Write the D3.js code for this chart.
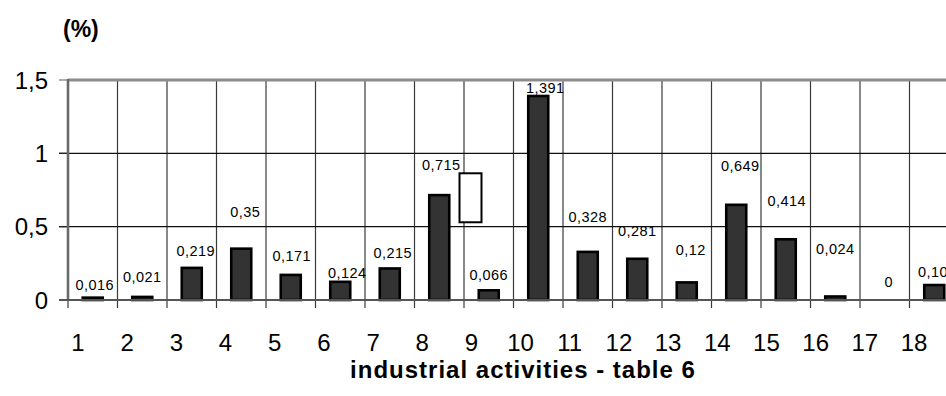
<!DOCTYPE html>
<html>
<head>
<meta charset="utf-8">
<script src="https://cdn.jsdelivr.net/npm/d3@7"></script>
<style>
  html, body { margin: 0; padding: 0; background: #fff; }
  svg { display: block; font-family: "Liberation Sans", Arial, sans-serif; }
</style>
</head>
<body>
<svg id="chart" width="946" height="396"></svg>
<script>
// Industrial activities (table 6), share in %
const categories = ["1","2","3","4","5","6","7","8","9","10","11","12","13","14","15","16","17","18"];
const values = [0.016, 0.021, 0.219, 0.35, 0.171, 0.124, 0.215, 0.715, 0.066, 1.391,
                0.328, 0.281, 0.12, 0.649, 0.414, 0.024, 0, 0.102];
const yTicks = [0, 0.5, 1, 1.5];
const yTickLabels = ["0", "0,5", "1", "1,5"];

// Label placement (pixels above bar top, horizontal nudge) for each value label
const labelLift = [12.7, 20.2, 16.9, 36.7, 18.9, 9.5, 15.8, 30.1, 15.3, 8, 35.2, 27.8, 32.4, 38.8, 38.3, 48.2, 18.3, 13.3];
const labelNudge = [2, 0, 4, 4, 1, 7, 3, 2, 0, 7, 0, 0, 4, 4, 1, 0, 4, 3];

// Empty framed box drawn over category 9
const frameBox = { category: "9", low: 0.53, high: 0.864 };

const svg = d3.select("#chart");
const plotLeft = 68, plotTop = 80, plotBottom = 300;
const band = 49.5;

const x = d3.scaleBand().domain(categories).range([plotLeft, plotLeft + band * categories.length]).padding(0);
const y = d3.scaleLinear().domain([0, 1.5]).range([plotBottom, plotTop]);
// tick labels sit on their own slightly tighter spacing
const xl = d3.scaleLinear().domain([1, 18]).range([78, 914]);

const fmt = v => String(v).replace(".", ",");

// vertical gridlines + ticks below the axis
const gx = svg.append("g");
categories.forEach((c, i) => {
  if (i === 0) return;
  gx.append("line")
    .attr("x1", x(c)).attr("x2", x(c))
    .attr("y1", plotTop).attr("y2", plotBottom + 8)
    .attr("stroke", "#3a3a3a").attr("stroke-width", 1.2);
});
gx.append("line")
  .attr("x1", plotLeft).attr("x2", plotLeft)
  .attr("y1", plotBottom).attr("y2", plotBottom + 8)
  .attr("stroke", "#3a3a3a").attr("stroke-width", 1.2);

// horizontal gridlines
yTicks.forEach(t => {
  if (t === 0 || t === 1.5) return;
  svg.append("line")
    .attr("x1", plotLeft - 9).attr("x2", 946)
    .attr("y1", y(t)).attr("y2", y(t))
    .attr("stroke", "#111").attr("stroke-width", 1.2);
});

// top border at 1.5
svg.append("line")
  .attr("x1", plotLeft).attr("x2", 946)
  .attr("y1", y(1.5)).attr("y2", y(1.5))
  .attr("stroke", "#8c8c8c").attr("stroke-width", 3);

// y tick marks
yTicks.forEach(t => {
  svg.append("line")
    .attr("x1", plotLeft - 9).attr("x2", plotLeft)
    .attr("y1", y(t)).attr("y2", y(t))
    .attr("stroke", t === 1.5 ? "#777" : "#222").attr("stroke-width", 1.2);
});

// left axis line
svg.append("line")
  .attr("x1", plotLeft).attr("x2", plotLeft)
  .attr("y1", y(1.5) - 1).attr("y2", plotBottom)
  .attr("stroke", "#6a6a6a").attr("stroke-width", 2.6);

// y tick labels
svg.append("g").selectAll("text").data(yTicks).join("text")
  .attr("x", 48).attr("y", d => y(d))
  .attr("dy", "0.36em")
  .attr("text-anchor", "end")
  .attr("font-size", 24)
  .attr("fill", "#000")
  .text((d, i) => yTickLabels[i]);

// bars
const bw = 20;
svg.append("g").selectAll("rect").data(values).join("rect")
  .attr("x", (d, i) => x(categories[i]) + x.bandwidth() / 2 - bw / 2)
  .attr("y", d => y(d))
  .attr("width", bw)
  .attr("height", d => plotBottom - y(d))
  .attr("fill", "#333")
  .attr("stroke", "#000")
  .attr("stroke-width", d => d > 0 ? 2.6 : 0);

// x axis line
svg.append("line")
  .attr("x1", plotLeft - 9).attr("x2", 946)
  .attr("y1", plotBottom).attr("y2", plotBottom)
  .attr("stroke", "#555").attr("stroke-width", 1.8);

// framed box
svg.append("rect")
  .attr("x", x(frameBox.category) - 4.5)
  .attr("y", y(frameBox.high))
  .attr("width", 22)
  .attr("height", y(frameBox.low) - y(frameBox.high))
  .attr("fill", "#fff")
  .attr("stroke", "#000")
  .attr("stroke-width", 2);

// value labels
svg.append("g").selectAll("text").data(values).join("text")
  .attr("x", (d, i) => x(categories[i]) + x.bandwidth() / 2 + labelNudge[i])
  .attr("y", (d, i) => y(d) - labelLift[i])
  .attr("dy", "0.36em")
  .attr("text-anchor", "middle")
  .attr("font-size", 14.5)
  .attr("letter-spacing", 0.4)
  .attr("fill", "#000")
  .text(d => fmt(d));

// category labels
svg.append("g").selectAll("text").data(categories).join("text")
  .attr("x", d => xl(+d))
  .attr("y", 342)
  .attr("dy", "0.36em")
  .attr("text-anchor", "middle")
  .attr("font-size", 24)
  .attr("fill", "#000")
  .text(d => d);

// unit label
svg.append("text")
  .attr("x", 63).attr("y", 37)
  .attr("font-size", 23)
  .attr("font-weight", "bold")
  .attr("fill", "#000")
  .text("(%)");

// axis title
svg.append("text")
  .attr("x", 523).attr("y", 378)
  .attr("text-anchor", "middle")
  .attr("font-size", 24)
  .attr("font-weight", "bold")
  .attr("letter-spacing", 1)
  .attr("fill", "#000")
  .text("industrial activities - table 6");
</script>
</body>
</html>
